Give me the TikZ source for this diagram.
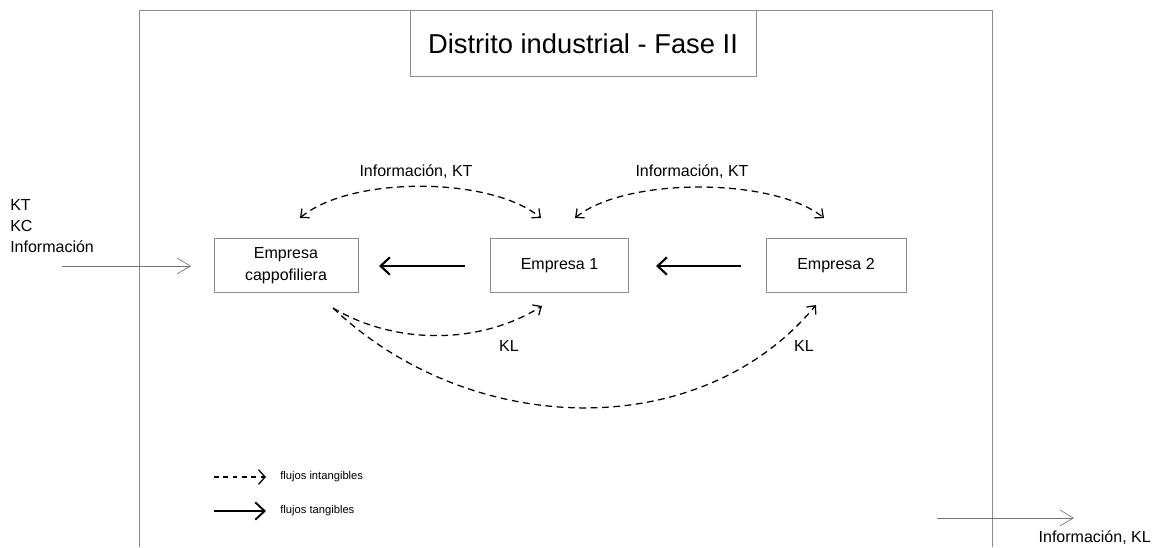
\documentclass[tikz,border=0pt]{standalone}
\usepackage{fontspec}
\setmainfont{Liberation Sans}
\usetikzlibrary{arrows.meta}
\begin{document}
\begin{tikzpicture}[x=0.75pt,y=-0.75pt,
  frame/.style={draw=black!45,line width=0.6pt},
  firm/.style={draw=black!45,line width=0.6pt,fill=white,minimum width=108pt,minimum height=41pt,inner sep=0pt,align=center,font=\fontsize{12}{14}\selectfont},
  lbl/.style={font=\fontsize{12}{14}\selectfont,inner sep=0pt},
  small/.style={font=\fontsize{8.4}{10}\selectfont,inner sep=0pt,anchor=west},
  flow/.style={line width=0.95pt,dash pattern=on 5pt off 3.5pt,-{Straight Barb[length=5pt,width=9pt]}},
  bflow/.style={line width=0.95pt,dash pattern=on 5pt off 3.5pt,{Straight Barb[length=5pt,width=9pt]}-{Straight Barb[length=5pt,width=9pt]}},
  tang/.style={line width=1.6pt,-{Straight Barb[length=7pt,width=13pt]}},
  thin/.style={draw=black!55,line width=0.5pt,-{Straight Barb[length=10pt,width=12pt,line width=0.5pt]}}]
\useasboundingbox (0,0) rectangle (1153,547);
% outer frame
\draw[frame] (139,547) -- (139,10) -- (992,10) -- (992,547);
% title
\node[draw=black!45,line width=0.6pt,fill=white,minimum width=259.5pt,minimum height=50pt,inner sep=0pt,
  font=\fontsize{20.5}{24}\selectfont] (title) at (583,43.5) {Distrito industrial - Fase II};
% firms
\node[firm] (cap) at (286,265.5) {Empresa\\[2pt]cappofiliera};
\node[firm,minimum width=104pt] (e1) at (559.5,265.5) {Empresa 1};
\node[firm,minimum width=105pt] (e2) at (836,265.5) {Empresa 2};
% tangible flows
\coordinate (t1s) at (465,266); \coordinate (t1e) at (379,266);
\coordinate (t2s) at (741,266); \coordinate (t2e) at (656,266);
\draw[tang] (t1s) -- (t1e);
\draw[tang] (t2s) -- (t2e);
% intangible flows top
\coordinate (a1) at (300,218); \coordinate (a2) at (541,218);
\coordinate (b1) at (575,218); \coordinate (b2) at (824,218);
\draw[bflow] (a1) .. controls (350,176) and (490,176) .. (a2);
\draw[bflow] (b1) .. controls (625,177) and (773,177) .. (b2);
\node[lbl] (l1) at (416,172) {Información, KT};
\node[lbl] (l2) at (692,172) {Información, KT};
% intangible flows bottom
\coordinate (c0) at (333,308); \coordinate (c1) at (542,306); \coordinate (c2) at (816,305);
\draw[flow] (c0) .. controls (395,345) and (480,345) .. (c1);
\draw[flow] (c0) .. controls (470,438) and (700,445) .. (c2);
\node[lbl] (k1) at (509,346) {KL};
\node[lbl] (k2) at (804,346) {KL};
% external inputs
\node[lbl,anchor=west,align=left] (inp) at (10,226) {KT\\[1.6pt]KC\\[1.6pt]Información};
\coordinate (in0) at (62,266); \coordinate (in1) at (191,266);
\draw[thin] (in0) -- (in1);
\coordinate (out0) at (937,518); \coordinate (out1) at (1074,518);
\draw[thin] (out0) -- (out1);
\node[lbl,anchor=east] (outl) at (1151,538) {Información, KL};
% legend
\coordinate (g1) at (214,477); \coordinate (g2) at (266,477);
\coordinate (h1) at (214,511); \coordinate (h2) at (266,511);
\draw[flow,dash pattern=on 3.5pt off 3.5pt,-{Straight Barb[length=5pt,width=11pt]}] (g1) -- (g2);
\draw[tang,line width=1.4pt] (h1) -- (h2);
\node[small] (lg1) at (280,477) {flujos intangibles};
\node[small] (lg2) at (280,511) {flujos tangibles};
\end{tikzpicture}
\end{document}
